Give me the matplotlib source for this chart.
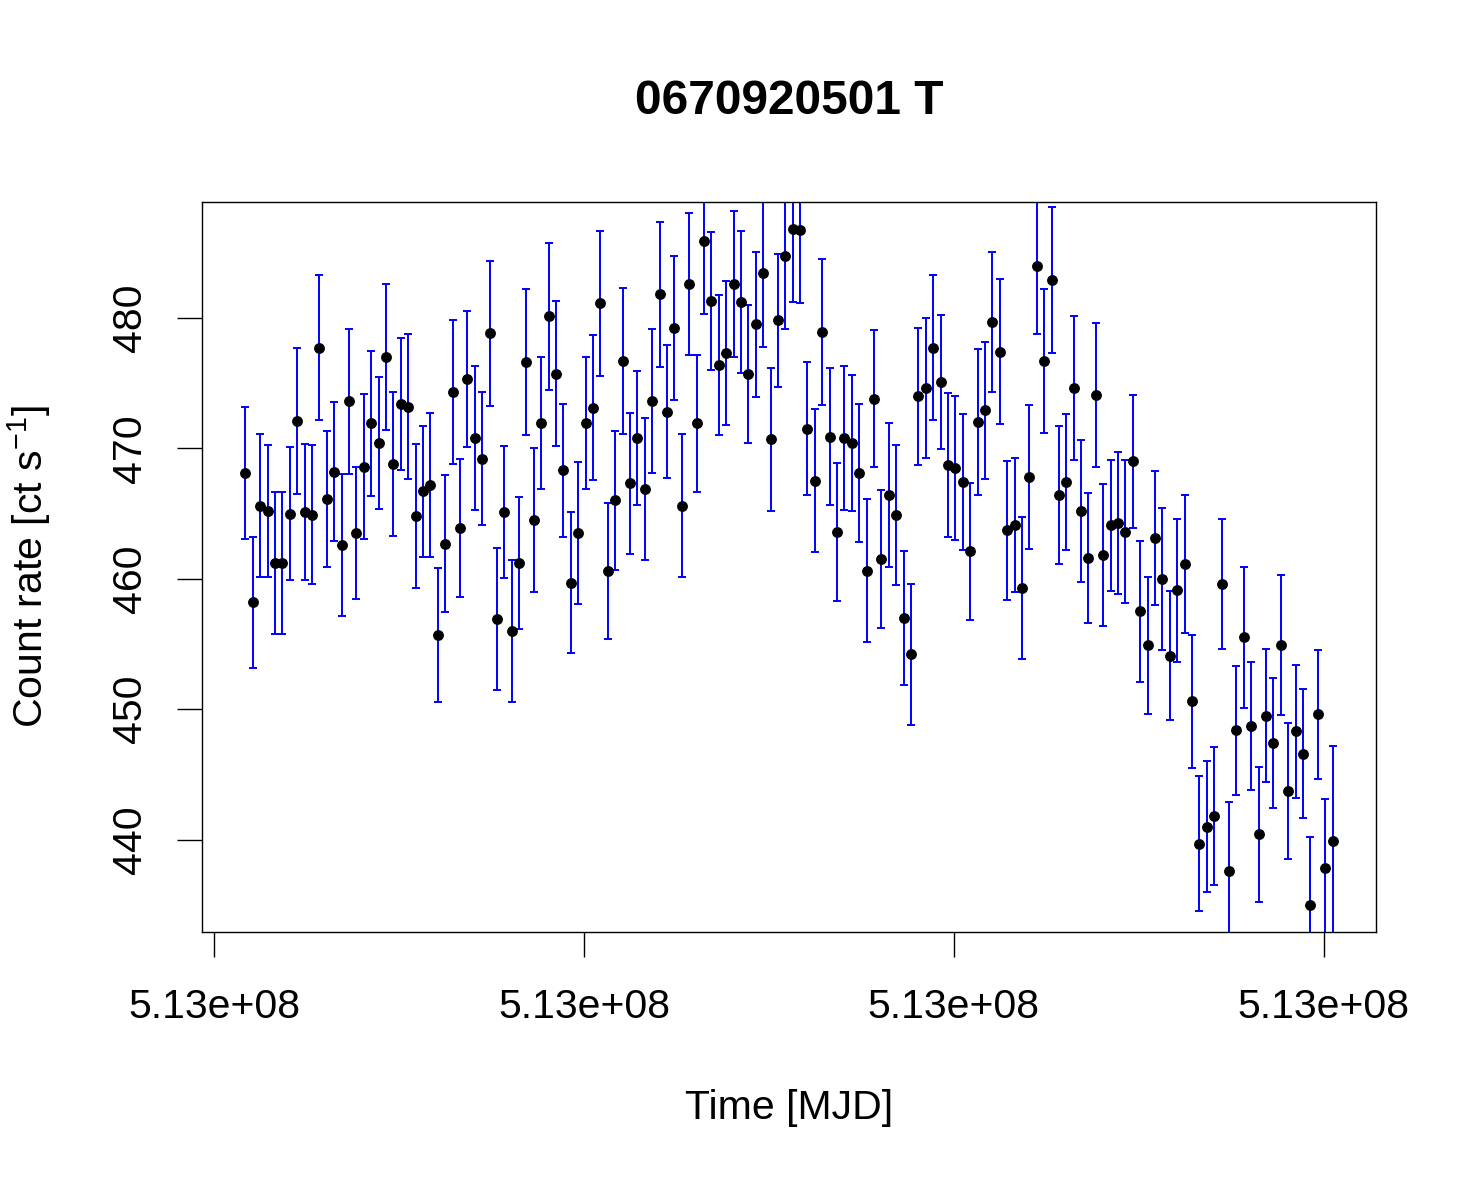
import numpy as np
import matplotlib
matplotlib.use("Agg")
import matplotlib.pyplot as plt
from matplotlib.ticker import FormatStrFormatter

plt.rcParams['font.family'] = ['Liberation Sans', 'DejaVu Sans']
plt.rcParams['mathtext.fontset'] = 'custom'
plt.rcParams['mathtext.rm'] = 'Liberation Sans'
plt.rcParams['mathtext.it'] = 'Liberation Sans'

# light curve, 20 s bins
t_start = 513020084.0
bin_width = 20.0
x_ticks = [513020000.0, 513021000.0, 513022000.0, 513023000.0]
y_ticks = [440, 450, 460, 470, 480]

rate = [
    468.1, 458.2, 465.6, 465.2, 461.2, 461.2, 465.0, 472.1, 465.1, 464.9,
    477.7, 466.1, 468.2, 462.6, 473.6, 463.5, 468.6, 471.9, 470.4, 477.0,
    468.8, 473.4, 473.2, 464.8, 466.7, 467.2, 455.7, 462.7, 474.3, 463.9,
    475.3, 470.8, 469.2, 478.8, 456.9, 465.1, 456.0, 461.2, 476.6, 464.5,
    471.9, 480.1, 475.7, 468.3, 459.7, 463.5, 471.9, 473.1, 481.1, 460.6,
    466.0, 476.7, 467.3, 470.8, 466.9, 473.6, 481.8, 472.8, 479.2, 465.6,
    482.6, 471.9, 485.9, 481.3, 476.4, 477.3, 482.6, 481.2, 475.7, 479.5,
    483.4, 470.7, 479.8, 484.7, 486.8, 486.7, 471.5, 467.5, 478.9, 470.9,
    463.6, 470.8, 470.4, 468.1, 460.6, 473.8, 461.5, 466.4, 464.9, 457.0,
    454.2, 474.0, 474.6, 477.7, 475.1, 468.7, 468.5, 467.4, 462.1, 472.0,
    472.9, 479.7, 477.4, 463.7, 464.1, 459.3, 467.8, 484.0, 476.7, 482.9,
    466.4, 467.4, 474.6, 465.2, 461.6, 474.1, 461.8, 464.1, 464.3, 463.6,
    469.0, 457.5, 454.9, 463.1, 460.0, 454.1, 459.1, 461.1, 450.6, 439.7,
    441.0, 441.8, 459.6, 437.6, 448.4, 455.5, 448.7, 440.4, 449.5, 447.4,
    454.9, 443.7, 448.3, 446.6, 435.0, 449.6, 437.8, 439.9,
]

rate_err = [
    5.05, 5.03, 5.48, 5.03, 5.43, 5.43, 5.06, 5.59, 5.19, 5.32,
    5.55, 5.19, 5.32, 5.44, 5.55, 5.03, 5.52, 5.53, 5.06, 5.59,
    5.52, 5.06, 5.52, 5.50, 5.03, 5.50, 5.16, 5.28, 5.54, 5.30,
    5.21, 5.52, 5.10, 5.54, 5.45, 5.05, 5.41, 5.03, 5.57, 5.50,
    5.06, 5.63, 5.55, 5.10, 5.41, 5.45, 5.06, 5.55, 5.57, 5.19,
    5.32, 5.59, 5.43, 5.14, 5.45, 5.52, 5.57, 5.10, 5.52, 5.50,
    5.43, 5.23, 5.64, 5.28, 5.37, 5.55, 5.59, 5.43, 5.26, 5.54,
    5.61, 5.48, 5.10, 5.57, 5.57, 5.57, 5.12, 5.48, 5.57, 5.23,
    5.30, 5.52, 5.23, 5.32, 5.48, 5.26, 5.28, 5.50, 5.37, 5.12,
    5.39, 5.25, 5.37, 5.55, 5.14, 5.50, 5.50, 5.23, 5.26, 5.57,
    5.26, 5.37, 5.57, 5.34, 5.14, 5.43, 5.52, 5.21, 5.54, 5.59,
    5.30, 5.21, 5.50, 5.46, 4.99, 5.50, 5.45, 5.03, 5.45, 5.48,
    5.08, 5.43, 5.25, 5.14, 5.45, 4.96, 5.45, 5.28, 5.08, 5.17,
    5.03, 5.30, 4.99, 5.28, 4.94, 5.43, 4.92, 5.17, 5.10, 4.96,
    5.35, 5.21, 5.08, 4.97, 5.21, 4.94, 5.32, 7.30,
]


def main():
    rate_a = np.array(rate)
    err_a = np.array(rate_err)
    time = t_start + bin_width * np.arange(len(rate_a))

    fig = plt.figure(figsize=(14.8, 11.84), dpi=100)
    ax = fig.add_axes([202 / 1480, 1 - 932 / 1184, 1174 / 1480, 730 / 1184])

    ax.errorbar(time, rate_a, yerr=err_a, fmt='none', ecolor='#0000ff',
                elinewidth=1.4, capsize=3.2, capthick=1.4, zorder=2)
    ax.plot(time, rate_a, 'o', color='black', markersize=6.8, zorder=3)

    # R style 4% padding around the data
    xr = time[-1] - time[0]
    yr = rate_a.max() - rate_a.min()
    ax.set_xlim(time[0] - 0.04 * xr, time[-1] + 0.04 * xr)
    ax.set_ylim(rate_a.min() - 0.04 * yr, rate_a.max() + 0.04 * yr)

    ax.set_xticks(x_ticks)
    ax.set_yticks(y_ticks)
    ax.xaxis.set_major_formatter(FormatStrFormatter('%.2e'))
    ax.tick_params(axis='both', direction='out', length=18, width=1.0,
                   labelsize=29.5, pad=22)
    ax.tick_params(axis='y', pad=20)
    for lab in ax.get_yticklabels():
        lab.set_rotation(90)
        lab.set_va('center')
    for sp in ax.spines.values():
        sp.set_linewidth(1.0)

    ax.set_xlabel('Time [MJD]', fontsize=29.5, labelpad=46)
    ax.set_ylabel(r'Count rate [ct s$^{-1}$]', fontsize=29.5, labelpad=42)
    fig.suptitle('0670920501 T', x=789 / 1480, y=1 - 102 / 1184, va='center',
                 fontsize=34.5, fontweight='bold')

    fig.savefig('out.png', dpi=100)
    plt.close(fig)


if __name__ == "__main__":
    main()
